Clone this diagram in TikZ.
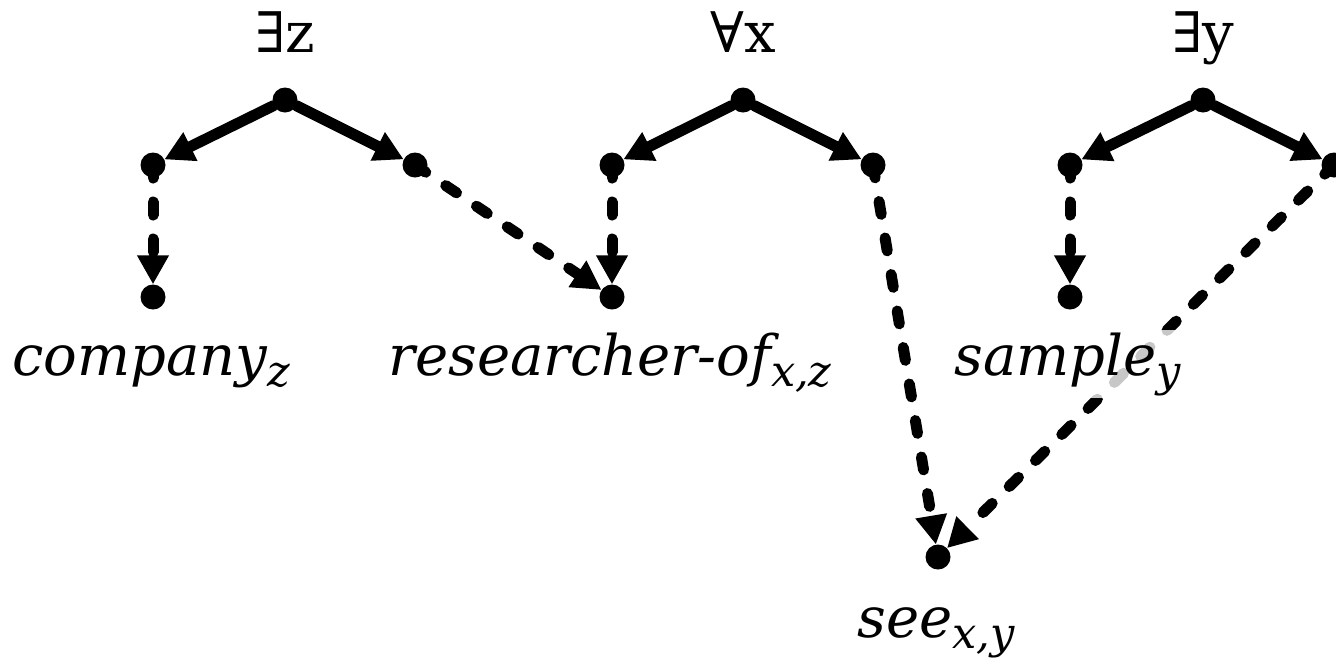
\documentclass[tikz,border=0pt]{standalone}
\usepackage{fontspec}
\setmainfont{DejaVu Serif}
\usetikzlibrary{arrows.meta}
\newcommand{\sbs}[1]{\raisebox{-11pt}{\fontsize{43}{48}\selectfont #1}}
\begin{document}
\begin{tikzpicture}[x=1pt,y=-1pt,
  dot/.style={circle,fill=black,inner sep=0pt,minimum size=25pt},
  solidarr/.style={line width=11pt,line cap=round,-{Triangle[length=29pt,width=30pt]}},
  dasharr/.style={line width=11pt,line cap=round,dash pattern=on 13pt off 24pt,-{Triangle[length=29pt,width=30pt]}},
  lbl/.style={font=\fontsize{56}{64}\selectfont\itshape,anchor=base,inner sep=3pt},
  qlbl/.style={font=\fontsize{56}{64}\selectfont,anchor=base,inner sep=0pt}]
\useasboundingbox (0,0) rectangle (1336,657);
% quantifier roots
\node[dot] (rz) at (285,100) {};
\node[dot] (rx) at (743,100) {};
\node[dot] (ry) at (1203,100) {};
% second row
\node[dot] (zl) at (153,165) {};
\node[dot] (zr) at (415,165) {};
\node[dot] (xl) at (612,165) {};
\node[dot] (xr) at (873,165) {};
\node[dot] (yl) at (1070,165) {};
\node[dot] (yr) at (1334,165) {};
% predicates
\node[dot] (comp) at (153,297) {};
\node[dot] (res) at (612,297) {};
\node[dot] (samp) at (1070,297) {};
\node[dot] (see) at (938,557) {};
% quantifier labels
\node[qlbl] (qz) at (285,52) {∃z};
\node[qlbl] (qx) at (743,52) {∀x};
\node[qlbl] (qy) at (1203,52) {∃y};
% solid arrows
\draw[solidarr] (rz) -- (zl);
\draw[solidarr] (rz) -- (zr);
\draw[solidarr] (rx) -- (xl);
\draw[solidarr] (rx) -- (xr);
\draw[solidarr] (ry) -- (yl);
\draw[solidarr] (ry) -- (yr);
% dashed arrows
\draw[dasharr] (zl.center) -- (comp);
\draw[dasharr] (zr.center) -- (res);
\draw[dasharr] (xl.center) -- (res);
\draw[dasharr] (xr.center) -- (see);
\draw[dasharr] (yl.center) -- (samp);
\draw[dasharr] (yr.center) -- (see);
% predicate labels
\node[lbl] (lcomp) at (151,375) {company\sbs{z}};
\node[lbl] (lres) at (610,375) {researcher-of\sbs{x,z}};
\node[lbl,fill=white,fill opacity=0.78,text opacity=1,inner sep=2pt] (lsamp) at (1068,375) {sample\sbs{y}};
\node[lbl] (lsee) at (936,637) {see\sbs{x,y}};
\end{tikzpicture}
\end{document}
